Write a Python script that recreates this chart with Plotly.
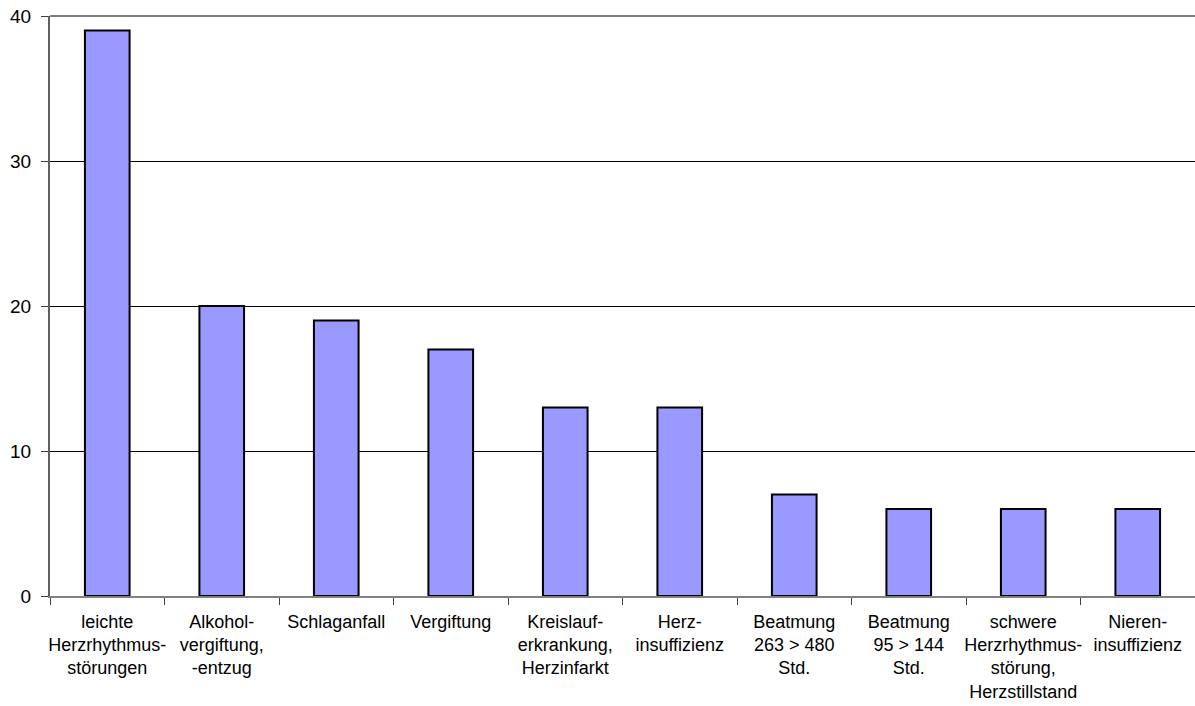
import plotly.graph_objects as go

categories = [
    "leichte<br>Herzrhythmus-<br>störungen",
    "Alkohol-<br>vergiftung,<br>-entzug",
    "Schlaganfall",
    "Vergiftung",
    "Kreislauf-<br>erkrankung,<br>Herzinfarkt",
    "Herz-<br>insuffizienz",
    "Beatmung<br>263 > 480<br>Std.",
    "Beatmung<br>95 > 144<br>Std.",
    "schwere<br>Herzrhythmus-<br>störung,<br>Herzstillstand",
    "Nieren-<br>insuffizienz",
]
values = [39, 20, 19, 17, 13, 13, 7, 6, 6, 6]
y_ticks = [0, 10, 20, 30, 40]

fig = go.Figure()
fig.add_trace(go.Bar(
    x=categories,
    y=values,
    width=0.39,
    marker=dict(color="#9999FF", line=dict(color="black", width=2)),
))

fig.update_layout(
    width=1195,
    height=706,
    margin=dict(l=50, r=0, t=16, b=110),
    plot_bgcolor="white",
    paper_bgcolor="white",
    showlegend=False,
    font=dict(family="Liberation Sans, Arial, sans-serif", size=18, color="black"),
)

fig.update_xaxes(
    type="category",
    automargin=False,
    tickangle=0,
    showgrid=False,
    showline=True,
    linecolor="#808080",
    linewidth=2,
    ticks="outside",
    tickson="boundaries",
    ticklen=7,
    tickcolor="#404040",
    tickwidth=1,
    tickfont=dict(size=18),
    ticklabelstandoff=8,
)

fig.update_yaxes(
    range=[0, 40],
    automargin=False,
    tickvals=y_ticks,
    showgrid=True,
    gridcolor="black",
    gridwidth=1,
    zeroline=False,
    showline=True,
    linecolor="#606060",
    linewidth=2,
    ticks="outside",
    ticklen=7,
    tickcolor="#404040",
    tickfont=dict(size=19),
    ticklabelstandoff=6,
)

# grey top border of the plot area
fig.add_shape(type="line", xref="paper", yref="paper", x0=0, x1=1, y0=1, y1=1,
              line=dict(color="#808080", width=2))

fig.write_html("out.html")
